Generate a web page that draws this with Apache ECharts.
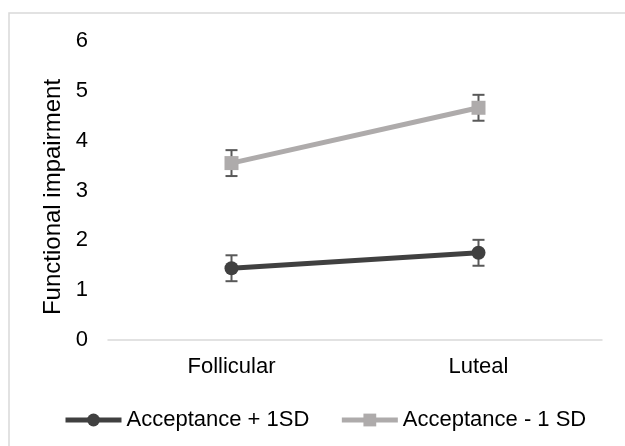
<!DOCTYPE html>
<html>
<head>
<meta charset="utf-8">
<script src="https://cdn.jsdelivr.net/npm/echarts@6/dist/echarts.min.js"></script>
<style>
html,body{margin:0;padding:0;background:#fff;}
#chart{width:625px;height:446px;}
</style>
</head>
<body>
<div id="chart"></div>
<script>
var categories = ['Follicular', 'Luteal'];
var seriesNames = ['Acceptance + 1SD', 'Acceptance - 1 SD'];
var highAcceptance = [1.44, 1.75];
var lowAcceptance = [3.55, 4.66];
var highAcceptanceErr = [0.26, 0.26];
var lowAcceptanceErr = [0.26, 0.26];
var yTicks = [0, 1, 2, 3, 4, 5, 6];

var FONT = 'Liberation Sans, Arial, sans-serif';
var DARK = '#404040';
var GRAY = '#aeabab';
var ERR = '#595959';

function errData(vals, errs) {
  return vals.map(function (v, i) { return [i, v - errs[i], v + errs[i]]; });
}

function errRender(params, api) {
  var x = api.value(0);
  var lo = api.coord([x, api.value(1)]);
  var hi = api.coord([x, api.value(2)]);
  var hw = 6;
  var style = { stroke: ERR, lineWidth: 2 };
  return {
    type: 'group',
    children: [
      { type: 'line', shape: { x1: lo[0], y1: lo[1], x2: hi[0], y2: hi[1] }, style: style },
      { type: 'line', shape: { x1: lo[0] - hw, y1: lo[1], x2: lo[0] + hw, y2: lo[1] }, style: style },
      { type: 'line', shape: { x1: hi[0] - hw, y1: hi[1], x2: hi[0] + hw, y2: hi[1] }, style: style }
    ]
  };
}

var chart = echarts.init(document.getElementById('chart'), null, { renderer: 'canvas' });
chart.setOption({
  backgroundColor: '#ffffff',
  animation: false,
  textStyle: { fontFamily: FONT },
  graphic: [
    {
      type: 'rect', z: -10,
      shape: { x: 9, y: 13, width: 700, height: 500 },
      style: { fill: 'none', stroke: '#d9d9d9', lineWidth: 1.5 }
    },
    {
      type: 'text', z: 10,
      x: 53, y: 197, rotation: Math.PI / 2,
      style: {
        text: 'Functional impairment', fontSize: 24, fontFamily: FONT,
        fill: '#000', align: 'center', verticalAlign: 'middle'
      }
    }
  ],
  grid: { left: 108, right: 23, top: 41, bottom: 106, containLabel: false },
  legend: {
    left: 58, top: 404,
    itemWidth: 56, itemHeight: 16, itemGap: 30,
    lineStyle: { width: 5 },
    textStyle: { fontSize: 22, color: '#000', fontFamily: FONT },
    data: seriesNames
  },
  xAxis: {
    type: 'category',
    data: categories,
    boundaryGap: true,
    axisLine: { show: true, lineStyle: { color: '#d9d9d9', width: 1.5 } },
    axisTick: { show: false },
    axisLabel: { fontSize: 22, color: '#000', margin: 16, fontFamily: FONT }
  },
  yAxis: {
    type: 'value',
    min: yTicks[0], max: yTicks[yTicks.length - 1], interval: 1,
    axisLine: { show: false },
    axisTick: { show: false },
    splitLine: { show: false },
    axisLabel: { fontSize: 22, color: '#000', margin: 20, fontFamily: FONT }
  },
  series: [
    {
      type: 'custom', name: 'errHigh', renderItem: errRender,
      data: errData(highAcceptance, highAcceptanceErr), z: 1, silent: true
    },
    {
      type: 'custom', name: 'errLow', renderItem: errRender,
      data: errData(lowAcceptance, lowAcceptanceErr), z: 1, silent: true
    },
    {
      name: seriesNames[0], type: 'line', data: highAcceptance,
      symbol: 'circle', symbolSize: 14, z: 3,
      lineStyle: { color: DARK, width: 5 },
      itemStyle: { color: DARK }
    },
    {
      name: seriesNames[1], type: 'line', data: lowAcceptance,
      symbol: 'rect', symbolSize: 14, z: 3,
      lineStyle: { color: GRAY, width: 5 },
      itemStyle: { color: GRAY }
    }
  ]
});
</script>
</body>
</html>
